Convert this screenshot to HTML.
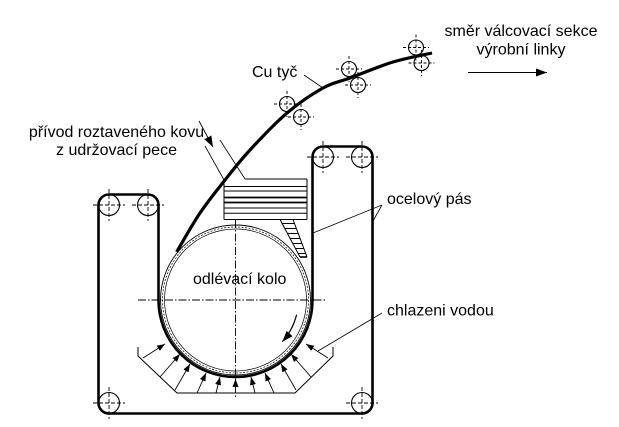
<!DOCTYPE html>
<html>
<head>
<meta charset="utf-8">
<style>
  html,body{margin:0;padding:0;background:#fff;}
  body{width:619px;height:427px;overflow:hidden;}
  svg{display:block;}
  text{font-family:"Liberation Sans", Arial, sans-serif;font-size:16px;fill:#000;}
</style>
</head>
<body>
<svg width="619" height="427" viewBox="0 0 619 427" xmlns="http://www.w3.org/2000/svg">
  <defs>
    <marker id="ah" markerUnits="userSpaceOnUse" markerWidth="10" markerHeight="8" refX="8" refY="3" orient="auto">
      <path d="M0,0 L8,3 L0,6 Z" fill="#000"/>
    </marker>
    <marker id="ahb" markerUnits="userSpaceOnUse" markerWidth="14" markerHeight="10" refX="11" refY="4" orient="auto">
      <path d="M0,0 L11,4 L0,8 Z" fill="#000"/>
    </marker>
  </defs>

  <!-- wheel -->
  <circle cx="235.5" cy="300" r="75" fill="none" stroke="#000" stroke-width="0.9"/>
  <circle cx="235.5" cy="300" r="73" fill="none" stroke="#000" stroke-width="0.7" stroke-dasharray="2,1.5"/>
  <circle cx="235.5" cy="300" r="71" fill="none" stroke="#000" stroke-width="0.7"/>

  <!-- centre lines -->
  <line x1="138" y1="300" x2="327" y2="300" stroke="#000" stroke-width="0.9" stroke-dasharray="8,2,1.5,2"/>
  <line x1="235.5" y1="220" x2="235.5" y2="397" stroke="#000" stroke-width="0.9" stroke-dasharray="8,2,1.5,2"/>

  <!-- steel belt -->
  <path d="M158.5,300 L158.5,205 A10.5,10.5 0 0 0 148,194.5 L109,194.5 A10.5,10.5 0 0 0 98.5,205 L98.5,403 A10.5,10.5 0 0 0 109,413.5 L362,413.5 A10.5,10.5 0 0 0 372.5,403 L372.5,157 A10.5,10.5 0 0 0 362,146.5 L323,146.5 A10.5,10.5 0 0 0 312.5,157 L312.5,300 A77,77 0 0 1 158.5,300 Z" fill="none" stroke="#000" stroke-width="2.6" stroke-linejoin="round"/>

  <!-- large rollers -->
  <g fill="none" stroke="#000" stroke-width="1.1">
    <circle cx="109" cy="205" r="10.5"/>
    <circle cx="148" cy="205" r="10.5"/>
    <circle cx="323" cy="157" r="10.5"/>
    <circle cx="362" cy="157" r="10.5"/>
    <circle cx="109" cy="403" r="10.5"/>
    <circle cx="362" cy="403" r="10.5"/>
  </g>
  <g stroke="#000" stroke-width="0.9" stroke-dasharray="4,2">
    <line x1="93" y1="205" x2="125" y2="205"/><line x1="109" y1="189" x2="109" y2="221"/>
    <line x1="132" y1="205" x2="164" y2="205"/><line x1="148" y1="189" x2="148" y2="221"/>
    <line x1="307" y1="157" x2="339" y2="157"/><line x1="323" y1="141" x2="323" y2="173"/>
    <line x1="346" y1="157" x2="378" y2="157"/><line x1="362" y1="141" x2="362" y2="173"/>
    <line x1="93" y1="403" x2="125" y2="403"/><line x1="109" y1="387" x2="109" y2="419"/>
    <line x1="346" y1="403" x2="378" y2="403"/><line x1="362" y1="387" x2="362" y2="419"/>
  </g>

  <!-- Cu rod -->
  <path d="M176.7,252 C180.6,245.25 191.95,224.95 200,213 C208.05,201.05 216.67,190.5 225,180 C233.33,169.5 239.67,161.17 250,150 C260.33,138.83 274.83,123.33 287,113 C299.17,102.67 312.5,93.83 323,88 C333.5,82.17 338.33,82.33 350,78 C361.67,73.67 379.33,66.17 393,62 C406.67,57.83 425.5,54.5 432,53" fill="none" stroke="#000" stroke-width="3.2" stroke-linecap="butt"/>

  <!-- small rollers on rod -->
  <g fill="none" stroke="#000" stroke-width="1.1">
    <circle cx="287" cy="104" r="7.5"/>
    <circle cx="301" cy="117" r="7.5"/>
    <circle cx="349" cy="69" r="7.5"/>
    <circle cx="358" cy="85" r="7.5"/>
    <circle cx="416" cy="47.5" r="7.5"/>
    <circle cx="421.5" cy="63" r="7.5"/>
  </g>
  <g stroke="#000" stroke-width="0.9" stroke-dasharray="3,2">
    <line x1="274" y1="104" x2="300" y2="104"/><line x1="287" y1="91" x2="287" y2="117"/>
    <line x1="288" y1="117" x2="314" y2="117"/><line x1="301" y1="104" x2="301" y2="130"/>
    <line x1="336" y1="69" x2="362" y2="69"/><line x1="349" y1="56" x2="349" y2="82"/>
    <line x1="345" y1="85" x2="371" y2="85"/><line x1="358" y1="72" x2="358" y2="98"/>
    <line x1="403" y1="47.5" x2="429" y2="47.5"/><line x1="416" y1="34.5" x2="416" y2="60.5"/>
    <line x1="408.5" y1="63" x2="434.5" y2="63"/><line x1="421.5" y1="50" x2="421.5" y2="76"/>
  </g>

  <!-- tundish / box -->
  <g stroke="#000" fill="none">
    <line x1="245" y1="179" x2="307" y2="179" stroke-width="1"/>
    <line x1="224" y1="180" x2="224" y2="219.5" stroke-width="1"/>
    <line x1="307" y1="179" x2="307" y2="219.5" stroke-width="1"/>
    <line x1="224" y1="219.5" x2="307" y2="219.5" stroke-width="1"/>
    <line x1="224" y1="186.5" x2="307" y2="186.5" stroke-width="1"/>
    <line x1="224" y1="191" x2="307" y2="191" stroke-width="1"/>
    <line x1="224" y1="197.5" x2="307" y2="197.5" stroke-width="1.8"/>
    <line x1="224" y1="202.5" x2="307" y2="202.5" stroke-width="1.8"/>
    <line x1="224" y1="208" x2="307" y2="208" stroke-width="1"/>
    <line x1="224" y1="213.3" x2="307" y2="213.3" stroke-width="1"/>
    <!-- leader lines to box -->
    <line x1="205" y1="146" x2="224" y2="180" stroke-width="0.8"/>
    <line x1="220" y1="140" x2="245" y2="179" stroke-width="0.8"/>
  </g>

  <!-- chute ladder -->
  <g stroke="#000" fill="none" stroke-width="1">
    <line x1="280" y1="219.5" x2="300" y2="257"/>
    <line x1="293" y1="219.5" x2="307" y2="257"/>
    <line x1="300" y1="257" x2="307" y2="257" stroke-width="1.6"/>
    <line x1="282.2" y1="223.5" x2="294.5" y2="223.5"/>
    <line x1="284.9" y1="228.5" x2="296.3" y2="228.5"/>
    <line x1="287.5" y1="233.5" x2="298.1" y2="233.5"/>
    <line x1="290.2" y1="238.5" x2="299.9" y2="238.5"/>
    <line x1="292.8" y1="243.5" x2="301.8" y2="243.5"/>
    <line x1="295.4" y1="248.5" x2="303.6" y2="248.5"/>
    <line x1="298.1" y1="253.5" x2="305.5" y2="253.5"/>
  </g>

  <!-- cooling trough -->
  <path d="M138,347 L138,356 L177,393 L295,393 L333,356 L333,347" fill="none" stroke="#000" stroke-width="1"/>

  <!-- cooling arrows -->
  <g stroke="#000" stroke-width="0.9" marker-end="url(#ah)">
    <line x1="143" y1="358" x2="165" y2="344"/>
    <line x1="160" y1="377" x2="180" y2="354"/>
    <line x1="175" y1="390" x2="190" y2="364"/>
    <line x1="197" y1="393" x2="206" y2="373"/>
    <line x1="216" y1="393" x2="220" y2="377"/>
    <line x1="235.5" y1="393" x2="235.5" y2="379"/>
    <line x1="255" y1="393" x2="251" y2="377"/>
    <line x1="274" y1="393" x2="265" y2="373"/>
    <line x1="296" y1="390" x2="281" y2="364"/>
    <line x1="311" y1="377" x2="291" y2="354"/>
    <line x1="328" y1="358" x2="306" y2="344"/>
  </g>

  <!-- rotation arrow -->
  <path d="M296.6,314.7 A63,63 0 0 1 282.3,341.7" fill="none" stroke="#000" stroke-width="1.2" marker-end="url(#ahb)"/>

  <!-- leaders -->
  <g stroke="#000" stroke-width="0.8" fill="none">
    <line x1="304" y1="75" x2="323" y2="88"/>
    <line x1="382" y1="205" x2="313" y2="233"/>
    <line x1="382" y1="205" x2="373" y2="221"/>
    <line x1="382" y1="313" x2="318" y2="351"/>
  </g>

  <!-- feed arrow -->
  <line x1="199" y1="121" x2="213" y2="147" stroke="#000" stroke-width="0.9" marker-end="url(#ahb)"/>

  <!-- direction arrow -->
  <line x1="468" y1="72.5" x2="547" y2="72.5" stroke="#000" stroke-width="1" marker-end="url(#ahb)"/>

  <!-- labels -->
  <text x="521" y="36" text-anchor="middle">směr válcovací sekce</text>
  <text x="521" y="54.5" text-anchor="middle">výrobní linky</text>
  <text x="252" y="77">Cu tyč</text>
  <text x="116.5" y="137" text-anchor="middle">přívod roztaveného kovu</text>
  <text x="116.5" y="155" text-anchor="middle">z udržovací pece</text>
  <text x="387" y="204">ocelový pás</text>
  <text x="193" y="284">odlévací kolo</text>
  <text x="387" y="315.5">chlazeni vodou</text>
</svg>
</body>
</html>
